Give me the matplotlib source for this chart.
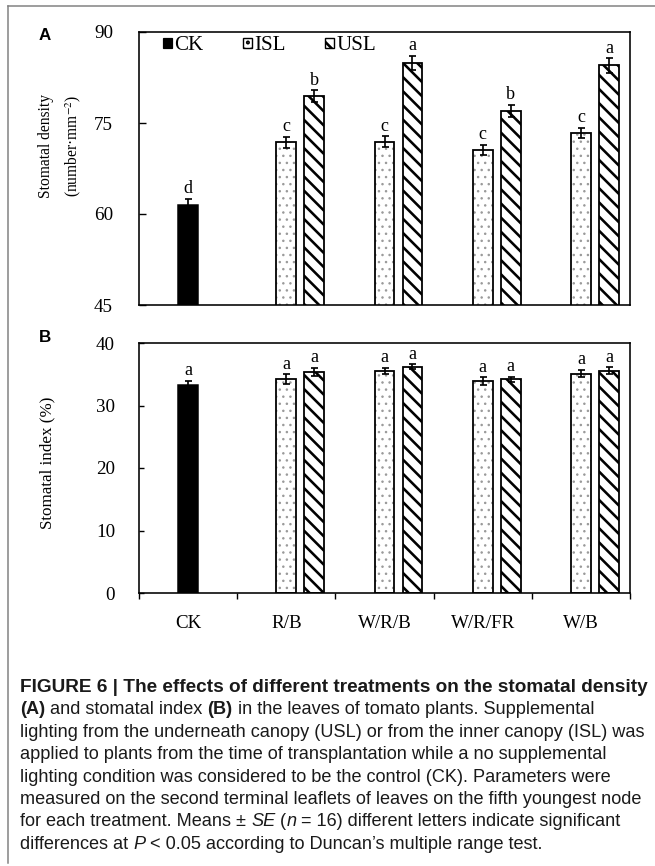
import matplotlib
matplotlib.use('Agg')
import matplotlib.pyplot as plt
from matplotlib.patches import Patch
from matplotlib.lines import Line2D
from matplotlib.font_manager import FontProperties
import numpy as np

# ---- data ----
categories = ['CK', 'R/B', 'W/R/B', 'W/R/FR', 'W/B']
treat_pos = [1, 2, 3, 4]  # categories that have ISL / USL bars

density_ck = [61.5]
density_ck_se = [1.0]
density_ck_letters = ['d']
density_isl = [71.8, 71.9, 70.6, 73.4]
density_isl_se = [0.9, 0.9, 0.8, 0.8]
density_isl_letters = ['c', 'c', 'c', 'c']
density_usl = [79.4, 84.9, 77.0, 84.5]
density_usl_se = [1.0, 1.2, 1.0, 1.2]
density_usl_letters = ['b', 'a', 'b', 'a']

index_ck = [33.3]
index_ck_se = [0.7]
index_ck_letters = ['a']
index_isl = [34.2, 35.5, 33.9, 35.1]
index_isl_se = [0.8, 0.5, 0.6, 0.6]
index_isl_letters = ['a', 'a', 'a', 'a']
index_usl = [35.4, 36.2, 34.2, 35.6]
index_usl_se = [0.6, 0.4, 0.4, 0.5]
index_usl_letters = ['a', 'a', 'a', 'a']

series_names = ['CK', 'ISL', 'USL']

caption_lines = [
    [('FIGURE 6 | The effects of different treatments on the stomatal density', 'bold', 'normal')],
    [('(A)', 'bold', 'normal'), (' and stomatal index ', 'normal', 'normal'),
     ('(B)', 'bold', 'normal'), (' in the leaves of tomato plants. Supplemental', 'normal', 'normal')],
    [('lighting from the underneath canopy (USL) or from the inner canopy (ISL) was', 'normal', 'normal')],
    [('applied to plants from the time of transplantation while a no supplemental', 'normal', 'normal')],
    [('lighting condition was considered to be the control (CK). Parameters were', 'normal', 'normal')],
    [('measured on the second terminal leaflets of leaves on the fifth youngest node', 'normal', 'normal')],
    [('for each treatment. Means \u00b1 ', 'normal', 'normal'), ('SE', 'normal', 'italic'),
     (' (', 'normal', 'normal'), ('n', 'normal', 'italic'),
     (' = 16) different letters indicate significant', 'normal', 'normal')],
    [('differences at ', 'normal', 'normal'), ('P', 'normal', 'italic'),
     (' < 0.05 according to Duncan\u2019s multiple range test.', 'normal', 'normal')],
]

# ---- layout ----
W, H = 655, 866
DPI = 85


def pt(px):
    return px * 72.0 / DPI


SERIF = 'Liberation Serif'
SANS = 'Liberation Sans'
BW = 0.2          # bar width (category units)
USL_SHIFT = 0.285  # USL bar sits right of ISL bar

plt.rcParams['hatch.linewidth'] = 2.2
plt.rcParams['mathtext.fontset'] = 'stix'

fig = plt.figure(figsize=(W / DPI, H / DPI), dpi=DPI, facecolor='white')

axA = fig.add_axes([139 / W, 1 - 305 / H, 491 / W, 273 / H])
axB = fig.add_axes([139 / W, 1 - 593 / H, 491 / W, 250 / H])


def draw_panel(ax, ck, ck_se, ck_let, isl, isl_se, isl_let, usl, usl_se, usl_let):
    x_isl = np.array(treat_pos, dtype=float)
    x_usl = x_isl + USL_SHIFT
    ax.bar([0], ck, BW, color='black', edgecolor='black', lw=pt(1.5), zorder=2)
    # dotted fill in grey, black outline drawn on top
    with plt.rc_context({'hatch.linewidth': 0.9}):
        ax.bar(x_isl, isl, BW, color='white', edgecolor='#9a9a9a', hatch='..', lw=0, zorder=2)
    ax.bar(x_isl, isl, BW, fill=False, edgecolor='black', lw=pt(1.8), zorder=3)
    ax.bar(x_usl, usl, BW, color='white', edgecolor='black', hatch='\\\\', lw=pt(1.8), zorder=2)

    for xs, ys, es, lets in [([0], ck, ck_se, ck_let), (x_isl, isl, isl_se, isl_let),
                             (x_usl, usl, usl_se, usl_let)]:
        ax.errorbar(xs, ys, yerr=es, fmt='none', ecolor='black', elinewidth=pt(1.7),
                    capsize=pt(3.5), capthick=pt(1.7), zorder=4)
        for x, y, e, l in zip(xs, ys, es, lets):
            ax.annotate(l, (x, y + e), xytext=(0, pt(1.5)), textcoords='offset points',
                        ha='center', va='bottom', family=SERIF, fontsize=pt(18))

    ax.set_xlim(-0.5, 4.5)
    for s in ax.spines.values():
        s.set_linewidth(pt(1.6))
        s.set_color('black')


draw_panel(axA, density_ck, density_ck_se, density_ck_letters,
           density_isl, density_isl_se, density_isl_letters,
           density_usl, density_usl_se, density_usl_letters)
draw_panel(axB, index_ck, index_ck_se, index_ck_letters,
           index_isl, index_isl_se, index_isl_letters,
           index_usl, index_usl_se, index_usl_letters)

# panel A axes
axA.set_ylim(45, 90)
axA.set_yticks([45, 60, 75, 90])
axA.set_xticks([])
axA.tick_params(axis='y', direction='in', length=pt(7), width=pt(1.4), pad=pt(26),
                labelsize=pt(19))
for t in axA.get_yticklabels():
    t.set_family(SERIF)

# panel B axes
axB.set_ylim(0, 40)
axB.set_yticks([0, 10, 20, 30, 40])
axB.tick_params(axis='y', direction='in', length=pt(5), width=pt(1.4), pad=pt(24),
                labelsize=pt(19))
axB.set_xticks(range(len(categories)))
axB.set_xticklabels(categories)
axB.set_xticks(np.arange(-0.5, len(categories)), minor=True)
axB.tick_params(axis='x', which='major', length=0, pad=pt(22), labelsize=pt(19))
axB.tick_params(axis='x', which='minor', direction='out', length=pt(6), width=pt(1.4))
for t in axB.get_yticklabels() + axB.get_xticklabels():
    t.set_family(SERIF)

# legend in panel A
handles = [Patch(facecolor='black', edgecolor='black', lw=pt(1.2)),
           Patch(facecolor='white', edgecolor='black', hatch='..', lw=pt(1.4)),
           Patch(facecolor='white', edgecolor='black', hatch='\\\\', lw=pt(1.4))]
axA.legend(handles, series_names, ncol=3, loc='center left',
           bbox_to_anchor=((163 - 139) / 491, (305 - 46) / 273), frameon=False,
           handlelength=0.42, handleheight=0.42, handletextpad=0.1,
           columnspacing=1.9, borderpad=0, borderaxespad=0,
           prop=FontProperties(family=SERIF, size=pt(21)))

# axis titles and panel letters
fig.text(46 / W, 1 - 146 / H, 'Stomatal density', rotation=90, ha='center', va='center',
         family=SERIF, fontsize=pt(15.5))
fig.text(73 / W, 1 - 146 / H, '(number\u00b7mm$^{-2}$)', rotation=90, ha='center',
         va='center', family=SERIF, fontsize=pt(15.5))
fig.text(47 / W, 1 - 463 / H, 'Stomatal index (%)', rotation=90, ha='center', va='center',
         family=SERIF, fontsize=pt(17))
fig.text(45 / W, 1 - 35 / H, 'A', ha='center', va='center', family=SANS,
         weight='bold', fontsize=pt(17))
fig.text(45 / W, 1 - 338 / H, 'B', ha='center', va='center', family=SANS,
         weight='bold', fontsize=pt(17))

# grey frame (top and left)
fig.add_artist(Line2D([8 / W, 8 / W], [1 - 863 / H, 1 - 6 / H], color='#808080', lw=pt(1.5)))
fig.add_artist(Line2D([8 / W, 1], [1 - 6 / H, 1 - 6 / H], color='#808080', lw=pt(1.5)))

# caption, drawn segment by segment
renderer = fig.canvas.get_renderer()


def seg_width(s, fp):
    w1, _, _ = renderer.get_text_width_height_descent('X' + s + 'X', fp, ismath=False)
    w2, _, _ = renderer.get_text_width_height_descent('XX', fp, ismath=False)
    return w1 - w2


# fit regular text to the long lines, bold heading to its own width
probe = FontProperties(family=SANS, size=12)
probe_b = FontProperties(family=SANS, weight='bold', size=12)
long_w = (seg_width(caption_lines[2][0][0], probe) + seg_width(caption_lines[5][0][0], probe)) / 2
cap_size = 12 * 625.0 / long_w
head_size = 12 * 625.0 / seg_width(caption_lines[0][0][0], probe_b)

for i, line in enumerate(caption_lines):
    x = 20.0
    y = 1 - (692 + 22.4 * i) / H
    for s, weight, style in line:
        size = head_size if i == 0 else cap_size
        fp = FontProperties(family=SANS, weight=weight, style=style, size=size)
        fig.text(x / W, y, s, fontproperties=fp, ha='left', va='baseline', color='#1a1a1a')
        x += seg_width(s, fp)

fig.savefig('out.png', dpi=DPI, facecolor='white')
